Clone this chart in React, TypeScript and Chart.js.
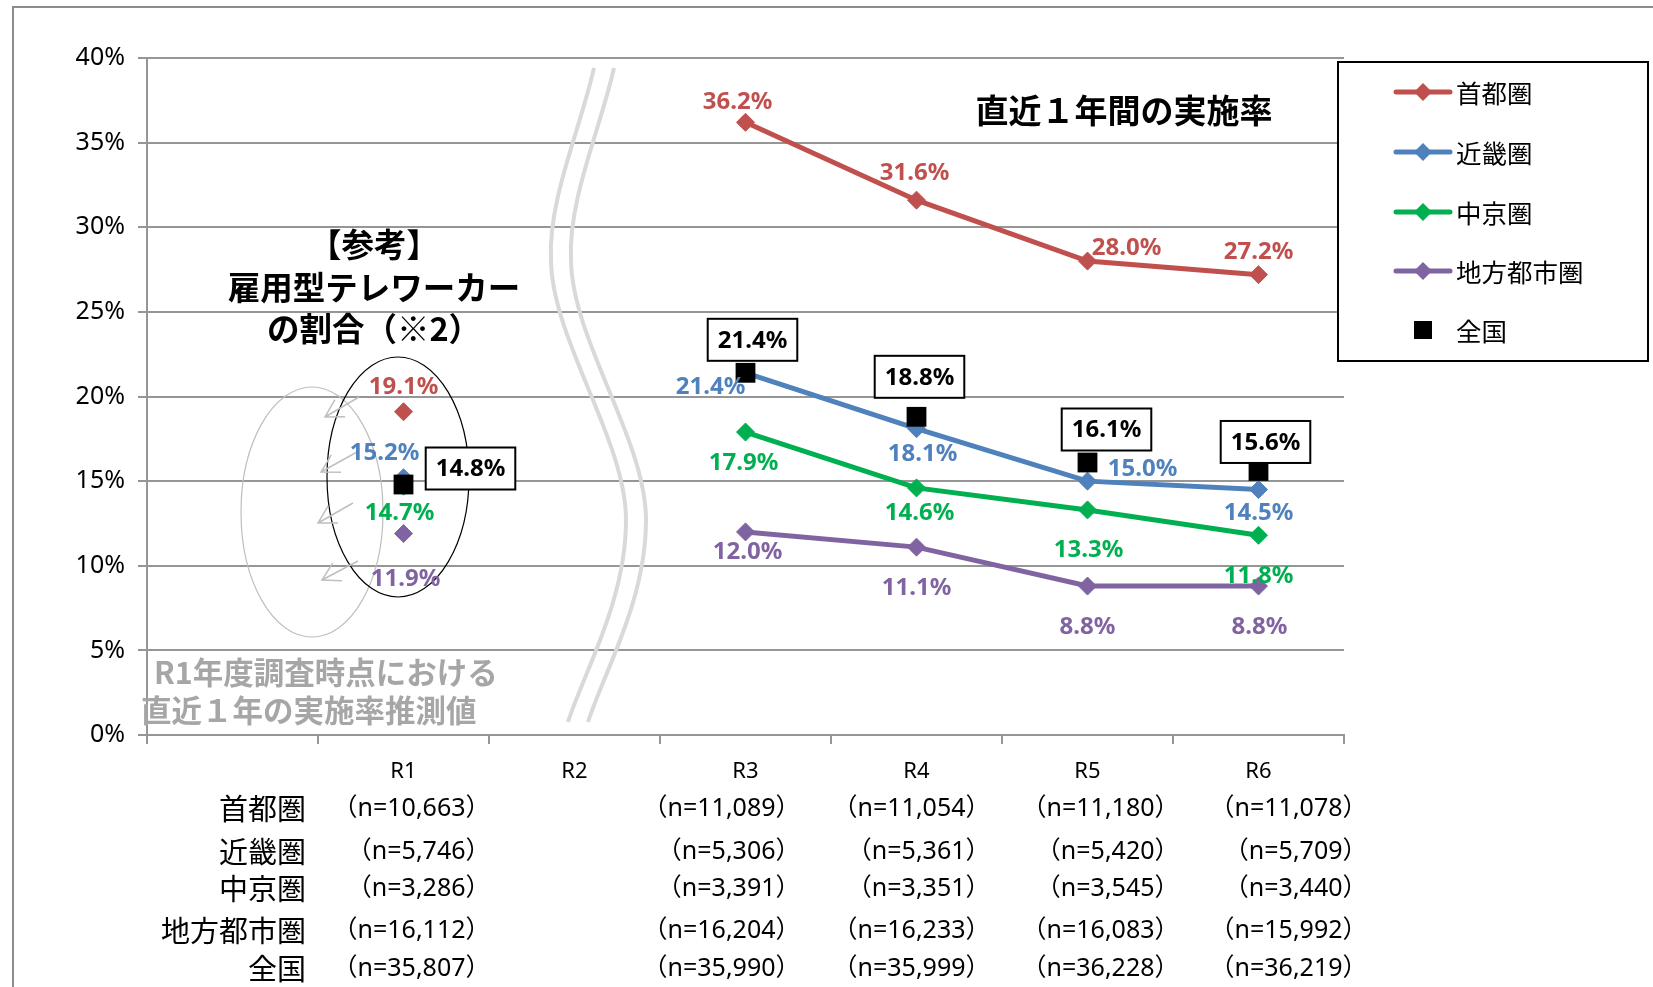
import React, { useEffect, useRef } from 'react';
import { Chart, registerables } from 'chart.js';
Chart.register(...registerables);

const LATIN = "'Noto Sans', 'Noto Sans CJK JP', sans-serif";
const JP = "'Noto Sans CJK JP', 'Noto Sans', sans-serif";

// ---- data ----
const categories = ['', 'R1', 'R2', 'R3', 'R4', 'R5', 'R6'];
const seriesNames = ['首都圏', '近畿圏', '中京圏', '地方都市圏', '全国'];
const shutoken = [null, 19.1, null, 36.2, 31.6, 28.0, 27.2];
const kinki = [null, 15.2, null, 21.4, 18.1, 15.0, 14.5];
const chukyo = [null, 14.7, null, 17.9, 14.6, 13.3, 11.8];
const chiho = [null, 11.9, null, 12.0, 11.1, 8.8, 8.8];
const zenkoku = [null, 14.8, null, 21.4, 18.8, 16.1, 15.6];
const yMin = 0;
const yMax = 40;
const yStep = 5;

const nShutoken = ['', '（n=10,663）', '', '（n=11,089）', '（n=11,054）', '（n=11,180）', '（n=11,078）'];
const nKinki = ['', '（n=5,746）', '', '（n=5,306）', '（n=5,361）', '（n=5,420）', '（n=5,709）'];
const nChukyo = ['', '（n=3,286）', '', '（n=3,391）', '（n=3,351）', '（n=3,545）', '（n=3,440）'];
const nChiho = ['', '（n=16,112）', '', '（n=16,204）', '（n=16,233）', '（n=16,083）', '（n=15,992）'];
const nZenkoku = ['', '（n=35,807）', '', '（n=35,990）', '（n=35,999）', '（n=36,228）', '（n=36,219）'];

const titleText = '直近１年間の実施率';
const refLines = ['【参考】', '雇用型テレワーカー', 'の割合（※2）'];
const noteLines = ['R1年度調査時点における', '直近１年の実施率推測値'];

// ---- styles ----
const COLORS = ['#C0504D', '#4F81BD', '#00B050', '#8064A2', '#000000'];
const GRID = '#969696';

// label offsets (dx, dy) relative to each point
const labelOffsets: (number[] | null)[][] = [
  [null, [0, -26], null, [-8, -21], [-2, -28], [39, -14], [0, -23]],
  [null, [-19, -26], null, [-35, 13], [6, 24], [55, -13], [0, 23]],
  [null, [-4, 26], null, [-2, 30], [3, 24], [1, 39], [0, 40]],
  [null, [2, 45], null, [2, 19], [0, 40], [0, 40], [1, 40]],
  [null, [67, -16], null, [7, -33], [3, -40], [19, -33], [7, -29]],
];
// right edge offsets of n-table columns relative to category centre
const nColOffsets = [0, 87, 0, 55, 74, 92, 109];
const nRowsY = [809, 852, 889, 931, 969];

function arrow(ctx: CanvasRenderingContext2D, x1: number, y1: number, x2: number, y2: number) {
  const a = Math.atan2(y2 - y1, x2 - x1);
  const h = 20;
  const s = 0.52;
  ctx.beginPath();
  ctx.moveTo(x1, y1);
  ctx.lineTo(x2, y2);
  ctx.moveTo(x2 - h * Math.cos(a - s), y2 - h * Math.sin(a - s));
  ctx.lineTo(x2, y2);
  ctx.lineTo(x2 - h * Math.cos(a + s), y2 - h * Math.sin(a + s));
  ctx.stroke();
}

function wave(ctx: CanvasRenderingContext2D, dx: number) {
  ctx.beginPath();
  ctx.moveTo(594 + dx, 68);
  ctx.bezierCurveTo(580 + dx, 130, 548 + dx, 200, 551 + dx, 260);
  ctx.bezierCurveTo(552 + dx, 340, 626 + dx, 440, 626 + dx, 520);
  ctx.bezierCurveTo(626 + dx, 600, 585 + dx, 670, 568 + dx, 722);
  ctx.stroke();
}

function diamond(ctx: CanvasRenderingContext2D, x: number, y: number, r: number, c: string) {
  ctx.fillStyle = c;
  ctx.beginPath();
  ctx.moveTo(x, y - r);
  ctx.lineTo(x + r, y);
  ctx.lineTo(x, y + r);
  ctx.lineTo(x - r, y);
  ctx.closePath();
  ctx.fill();
}

const overlay = {
  id: 'overlay',
  beforeDatasetsDraw(chart: any) {
    const ctx: CanvasRenderingContext2D = chart.ctx;
    ctx.save();
    // break marks
    ctx.strokeStyle = '#D9D9D9';
    ctx.lineWidth = 4;
    wave(ctx, 0);
    wave(ctx, 20);
    // ellipses
    ctx.lineWidth = 1.2;
    ctx.strokeStyle = '#BFBFBF';
    ctx.beginPath();
    ctx.ellipse(312, 512, 71, 125, 0, 0, Math.PI * 2);
    ctx.stroke();
    ctx.strokeStyle = '#000';
    ctx.beginPath();
    ctx.ellipse(398, 477, 71, 120, 0, 0, Math.PI * 2);
    ctx.stroke();
    // arrows
    ctx.strokeStyle = '#BFBFBF';
    ctx.lineWidth = 1.5;
    arrow(ctx, 359, 397, 325, 417);
    arrow(ctx, 357, 452, 321, 472);
    arrow(ctx, 353, 503, 318, 523);
    arrow(ctx, 358, 561, 322, 580);
    ctx.restore();
  },
  afterDatasetsDraw(chart: any) {
    const ctx: CanvasRenderingContext2D = chart.ctx;
    const xs = chart.scales.x;
    ctx.save();
    ctx.textAlign = 'center';
    ctx.textBaseline = 'middle';
    // data labels
    chart.data.datasets.forEach((ds: any, i: number) => {
      const meta = chart.getDatasetMeta(i);
      ds.data.forEach((v: number | null, j: number) => {
        if (v == null) return;
        const off = labelOffsets[i][j];
        if (!off) return;
        const p = meta.data[j];
        const cx = p.x + off[0];
        const cy = p.y + off[1];
        const txt = v.toFixed(1) + '%';
        ctx.font = `bold 24px ${LATIN}`;
        if (i === 4) {
          const w = ctx.measureText(txt).width + 20;
          const h = 42;
          ctx.fillStyle = '#fff';
          ctx.fillRect(cx - w / 2, cy - h / 2, w, h);
          ctx.strokeStyle = '#000';
          ctx.lineWidth = 2;
          ctx.strokeRect(cx - w / 2, cy - h / 2, w, h);
          ctx.fillStyle = '#000';
        } else {
          ctx.fillStyle = COLORS[i];
        }
        ctx.fillText(txt, cx, cy + 1);
      });
    });

    // title
    ctx.fillStyle = '#000';
    ctx.font = `bold 33px ${JP}`;
    ctx.fillText(titleText, 1124, 110);
    // reference block
    ctx.font = `bold 32.5px ${JP}`;
    const refY = [245, 288, 329];
    refLines.forEach((t, k) => ctx.fillText(t, 374, refY[k]));
    // grey note
    ctx.textAlign = 'left';
    ctx.fillStyle = '#A6A6A6';
    ctx.font = `bold 30.5px ${JP}`;
    ctx.fillText(noteLines[0], 154, 672);
    ctx.fillText(noteLines[1], 141, 710);

    // legend
    ctx.fillStyle = '#fff';
    ctx.fillRect(1338, 62, 310, 299);
    ctx.strokeStyle = '#000';
    ctx.lineWidth = 2;
    ctx.strokeRect(1338, 62, 310, 299);
    const legY = [92, 152, 212, 271, 330];
    chart.data.datasets.forEach((ds: any, i: number) => {
      const y = legY[i];
      if (i < 4) {
        ctx.strokeStyle = COLORS[i];
        ctx.lineWidth = 5;
        ctx.lineCap = 'round';
        ctx.beginPath();
        ctx.moveTo(1396, y);
        ctx.lineTo(1450, y);
        ctx.stroke();
        diamond(ctx, 1423, y, 9, COLORS[i]);
      } else {
        ctx.fillStyle = '#000';
        ctx.fillRect(1414, y - 9, 18, 18);
      }
      ctx.fillStyle = '#000';
      ctx.font = `25.5px ${JP}`;
      ctx.textAlign = 'left';
      ctx.fillText(ds.label, 1456, y + 1);
    });

    // n table
    const nRows = [nShutoken, nKinki, nChukyo, nChiho, nZenkoku];
    ctx.fillStyle = '#000';
    nRows.forEach((row, r) => {
      const y = nRowsY[r];
      ctx.textAlign = 'right';
      ctx.font = `29px ${JP}`;
      ctx.fillText(seriesNames[r], 306, y);
      ctx.font = `25px ${LATIN}`;
      row.forEach((t, c) => {
        if (!t) return;
        ctx.fillText(t, xs.getPixelForValue(c) + nColOffsets[c], y);
      });
    });

    // outer frame
    ctx.strokeStyle = '#8c8c8c';
    ctx.lineWidth = 2;
    ctx.beginPath();
    ctx.moveTo(13, 990);
    ctx.lineTo(13, 7);
    ctx.lineTo(1660, 7);
    ctx.stroke();
    ctx.restore();
  },
};

function lineSet(label: string, data: (number | null)[], color: string) {
  return {
    label,
    data,
    borderColor: color,
    backgroundColor: color,
    borderWidth: 5,
    pointStyle: 'rectRot',
    pointRadius: 9,
    pointBorderWidth: 1,
    pointBackgroundColor: color,
    pointBorderColor: color,
    spanGaps: false,
    tension: 0,
    order: 0,
  };
}

export default function App() {
  const ref = useRef<HTMLCanvasElement>(null);
  useEffect(() => {
    const canvas = ref.current!;
    const chart = new Chart(canvas, {
      type: 'line',
      data: {
        labels: categories,
        datasets: [
          lineSet(seriesNames[0], shutoken, COLORS[0]),
          lineSet(seriesNames[1], kinki, COLORS[1]),
          lineSet(seriesNames[2], chukyo, COLORS[2]),
          lineSet(seriesNames[3], chiho, COLORS[3]),
          {
            label: seriesNames[4],
            data: zenkoku,
            showLine: false,
            pointStyle: 'rect',
            pointRadius: 14,
            pointBorderWidth: 0,
            borderColor: '#000',
            backgroundColor: '#000',
            pointBackgroundColor: '#000',
            pointBorderColor: '#000',
            order: -1,
          },
        ] as any,
      },
      options: {
        responsive: false,
        animation: false,
        events: [],
        layout: { padding: { left: 0, top: 58, right: 309, bottom: 0 } },
        plugins: { legend: { display: false }, tooltip: { enabled: false } },
        scales: {
          x: {
            type: 'category',
            offset: true,
            grid: { offset: true, drawOnChartArea: false, drawTicks: true, tickLength: 9, color: GRID, lineWidth: 2 },
            border: { display: true, color: GRID, width: 2 },
            ticks: { color: '#000', font: { family: LATIN, size: 22 }, padding: 15, maxRotation: 0, autoSkip: false },
            afterFit: (s: any) => { s.height = 252; },
          },
          y: {
            min: yMin,
            max: yMax,
            ticks: {
              stepSize: yStep,
              color: '#000',
              font: { family: LATIN, size: 25 },
              padding: 13,
              callback: (v: any) => v + '%',
            },
            grid: { color: GRID, lineWidth: 2, tickLength: 9, drawTicks: true },
            border: { display: true, color: GRID, width: 2 },
            afterFit: (s: any) => { s.width = 147; },
          },
        },
      } as any,
      plugins: [overlay],
    });
    return () => chart.destroy();
  }, []);
  return (
    <div style={{ position: 'fixed', left: 0, top: 0, width: 1653, height: 987, background: '#fff' }}>
      <canvas ref={ref} width={1653} height={987} style={{ width: 1653, height: 987, display: 'block' }} />
    </div>
  );
}
